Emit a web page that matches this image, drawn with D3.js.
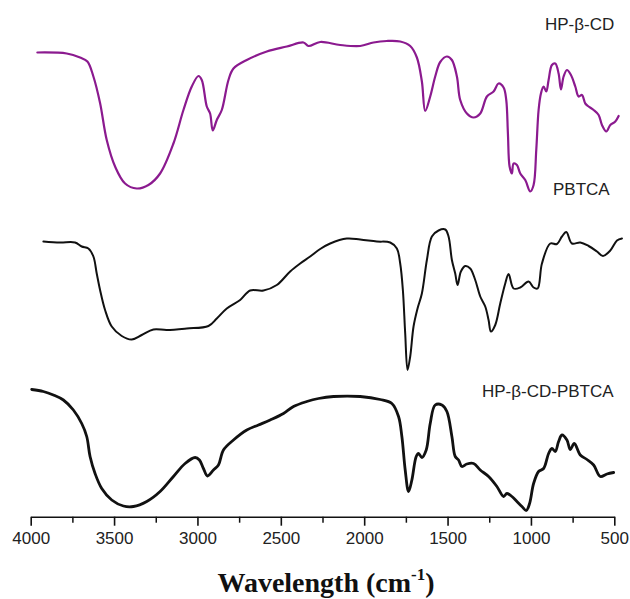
<!DOCTYPE html>
<html>
<head>
<meta charset="utf-8">
<script src="https://cdn.jsdelivr.net/npm/d3@7"></script>
<style>
  html, body { margin: 0; padding: 0; background: #fff; }
  svg { display: block; }
</style>
</head>
<body>
<svg id="chart" width="630" height="599"></svg>
<script>
// Wavenumber (cm-1) and relative transmittance (a.u., offset per spectrum)
const hpbcdWave = [3960,3784,3704,3660,3624,3584,3544,3494,3434,3364,3294,3224,3144,3084,3034,2994,2974,2944,2924,2908,2884,2854,2814,2784,2704,2584,2464,2364,2334,2264,2144,2024,1944,1864,1784,1724,1684,1654,1634,1604,1574,1544,1504,1474,1444,1424,1384,1344,1304,1264,1224,1194,1164,1148,1138,1128,1114,1104,1084,1064,1034,1004,984,968,954,940,924,908,894,874,854,834,820,804,784,760,734,714,694,674,654,624,594,574,548,524,494,474];
const hpbcdT = [92.7,92.5,91.7,90.9,87.9,82.6,75.2,69.9,66.5,65.5,66.2,68.5,74.5,81.2,85.9,88.0,87.2,81.9,80.5,77.1,79.2,81.2,87.2,89.5,91.2,92.9,93.9,94.7,94.0,94.8,94.2,94.0,94.7,95.0,94.9,94.0,91.7,86.9,81.0,83.9,87.9,90.8,91.9,91.2,87.9,83.2,80.5,79.7,80.5,83.9,84.9,86.5,85.7,83.2,76.5,69.9,68.5,70.5,70.2,68.5,67.2,64.9,66.2,73.2,81.2,84.5,85.9,84.9,87.2,90.2,90.5,88.5,85.3,87.9,89.2,88.2,85.9,83.9,84.2,82.5,81.9,81.2,80.2,78.2,76.9,78.2,78.9,80.0];

const pbtcaWave = [3924,3824,3734,3694,3654,3624,3604,3584,3554,3514,3454,3394,3334,3264,3184,3064,2934,2884,2824,2744,2684,2604,2524,2444,2384,2324,2264,2204,2104,2024,1924,1844,1804,1784,1768,1754,1740,1724,1704,1680,1654,1624,1594,1554,1514,1494,1474,1454,1440,1420,1394,1364,1334,1304,1274,1254,1240,1214,1184,1154,1134,1104,1064,1014,984,960,934,884,844,814,788,754,704,654,604,568,524,484,454];
const pbtcaT = [54.9,54.7,54.7,53.9,53.5,51.9,48.5,45.2,41.2,37.9,36.0,35.3,36.2,37.3,37.2,37.5,38.0,39.5,41.5,43.2,45.1,45.1,46.2,48.9,50.5,51.9,53.4,54.5,55.5,55.3,54.9,54.7,53.5,50.5,45.2,36.5,29.2,31.9,37.9,41.5,44.5,51.2,55.9,57.1,57.3,55.9,51.2,48.5,46.2,48.9,50.0,49.5,47.2,43.9,41.9,39.2,36.9,38.2,42.5,46.5,48.4,45.5,45.7,46.9,45.7,45.5,50.5,54.5,54.4,55.9,56.8,54.5,54.7,54.0,52.9,52.0,53.1,55.1,55.5];

const complexWave = [3994,3924,3864,3804,3744,3694,3664,3644,3614,3574,3514,3444,3384,3304,3224,3144,3074,3014,2988,2964,2940,2904,2874,2844,2784,2704,2634,2564,2484,2424,2344,2274,2184,2024,1904,1834,1794,1774,1754,1734,1714,1688,1674,1654,1628,1604,1574,1534,1504,1474,1454,1434,1414,1384,1344,1304,1254,1204,1164,1144,1114,1084,1054,1028,1008,984,954,924,894,874,854,834,814,784,764,740,704,664,624,584,544,504];
const complexT = [25.3,24.9,24.2,23.2,21.2,18.5,15.9,11.9,8.5,5.5,3.2,2.0,1.9,2.9,4.9,7.9,10.5,11.7,11.2,9.5,8.0,9.2,10.2,13.2,15.2,17.2,18.2,19.2,20.5,21.9,22.9,23.5,23.9,23.9,23.3,22.5,19.9,15.9,9.2,4.9,7.2,11.9,12.5,11.7,13.2,18.5,22.2,22.2,20.9,15.9,11.9,11.2,9.9,10.4,10.5,9.2,7.9,5.9,3.9,4.5,3.9,2.9,1.9,1.1,2.5,6.5,8.9,9.5,12.5,13.5,12.9,14.9,16.2,15.2,13.3,14.5,12.2,11.3,10.2,7.9,8.4,8.7];

const majorTicks = [4000,3500,3000,2500,2000,1500,1000,500];
const minorTicks = [3750,3250,2750,2250,1750,1250,750];
const seriesNames = ["HP-β-CD","PBTCA","HP-β-CD-PBTCA"];
const seriesColors = ["#8b1a8f","#111111","#111111"];

const svg = d3.select("#chart");
const x = d3.scaleLinear().domain([4000, 500]).range([30.7, 614.3]);
const y = d3.scaleLinear().domain([0, 100]).range([516, 16]);
const axisY = 516.7;

const line = d3.line()
  .x(d => x(d[0]))
  .y(d => y(d[1]))
  .curve(d3.curveCatmullRom.alpha(0.5));

const series = [
  { name: seriesNames[0], data: d3.zip(hpbcdWave, hpbcdT), color: seriesColors[0], width: 2.2, label: [545, 30] },
  { name: seriesNames[1], data: d3.zip(pbtcaWave, pbtcaT), color: seriesColors[1], width: 2.0, label: [553, 195] },
  { name: seriesNames[2], data: d3.zip(complexWave, complexT), color: seriesColors[2], width: 2.8, label: [482, 397] }
];

svg.selectAll("path.spec")
  .data(series)
  .enter().append("path")
  .attr("class", "spec")
  .attr("fill", "none")
  .attr("stroke", d => d.color)
  .attr("stroke-width", d => d.width)
  .attr("stroke-linejoin", "round")
  .attr("stroke-linecap", "round")
  .attr("d", d => line(d.data));

svg.selectAll("text.lbl")
  .data(series)
  .enter().append("text")
  .attr("class", "lbl")
  .attr("x", d => d.label[0])
  .attr("y", d => d.label[1])
  .attr("font-family", "Liberation Sans, Arial, sans-serif")
  .attr("font-size", 17)
  .attr("fill", "#222")
  .text(d => d.name);

// minor ticks
const minorAxis = d3.axisBottom(x).tickValues(minorTicks).tickSize(6).tickSizeOuter(0).tickFormat("");
const gMinor = svg.append("g").attr("transform", `translate(0,${axisY})`).call(minorAxis);
gMinor.select(".domain").remove();
gMinor.selectAll("line").attr("stroke", "#111").attr("stroke-width", 1.5);

// major axis
const majorAxis = d3.axisBottom(x).tickValues(majorTicks).tickSize(9).tickSizeOuter(0).tickPadding(6).tickFormat(d3.format("d"));
const gMajor = svg.append("g").attr("transform", `translate(0,${axisY})`).call(majorAxis);
gMajor.select(".domain").attr("stroke", "#111").attr("stroke-width", 1.6);
gMajor.selectAll("line").attr("stroke", "#111").attr("stroke-width", 1.6);
gMajor.selectAll("text")
  .attr("font-family", "Liberation Sans, Arial, sans-serif")
  .attr("font-size", 17)
  .attr("fill", "#222");

// axis title
const title = svg.append("text")
  .attr("x", 326)
  .attr("y", 592)
  .attr("text-anchor", "middle")
  .attr("font-family", "Liberation Serif, Times New Roman, serif")
  .attr("font-weight", "bold")
  .attr("font-size", 28)
  .attr("fill", "#111");
title.append("tspan").text("Wavelength (cm");
title.append("tspan").attr("font-size", 17).attr("dy", -12).text("-1");
title.append("tspan").attr("dy", 12).text(")");
</script>
</body>
</html>
